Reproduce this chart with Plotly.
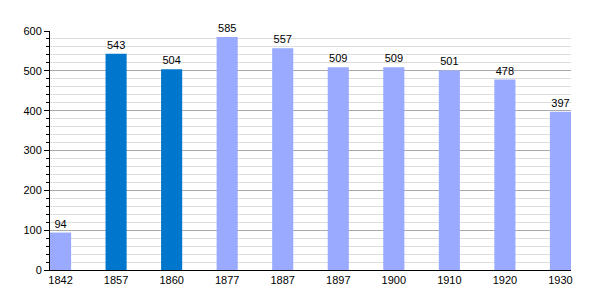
import plotly.graph_objects as go

years = ["1842", "1857", "1860", "1877", "1887", "1897", "1900", "1910", "1920", "1930"]
values = [94, 543, 504, 585, 557, 509, 509, 501, 478, 397]
highlight = [False, True, True, False, False, False, False, False, False, False]

colors = ["#0077CC" if h else "#99AAFF" for h in highlight]

fig = go.Figure()
fig.add_trace(go.Bar(
    x=list(range(len(years))), y=values,
    marker=dict(color=colors, line=dict(width=0)),
    text=[str(v) for v in values], textposition="outside",
    textfont=dict(family="Liberation Sans, Arial", size=11, color="#000000"),
    cliponaxis=False, width=0.38,
))

fig.update_layout(
    width=600, height=300,
    margin=dict(l=50, r=29, t=31, b=30),
    paper_bgcolor="white", plot_bgcolor="white",
    showlegend=False,
    font=dict(family="Liberation Sans, Arial", size=11, color="#000000"),
    xaxis=dict(
        range=[-0.19, 9.19], tickmode="array",
        tickvals=list(range(len(years))), ticktext=years,
        showgrid=False, showline=True, linecolor="black", linewidth=1,
        ticks="", zeroline=False,
    ),
    yaxis=dict(
        range=[0, 600], dtick=100, showgrid=True, gridcolor="#AAAAAA", gridwidth=1,
        showline=True, linecolor="black", linewidth=1,
        ticks="outside", ticklen=5, tickcolor="black", zeroline=False,
        minor=dict(dtick=20, showgrid=True, gridcolor="#DDDDDD", ticks="outside",
                   ticklen=3, tickcolor="black"),
    ),
)

fig.write_html("out.html")
